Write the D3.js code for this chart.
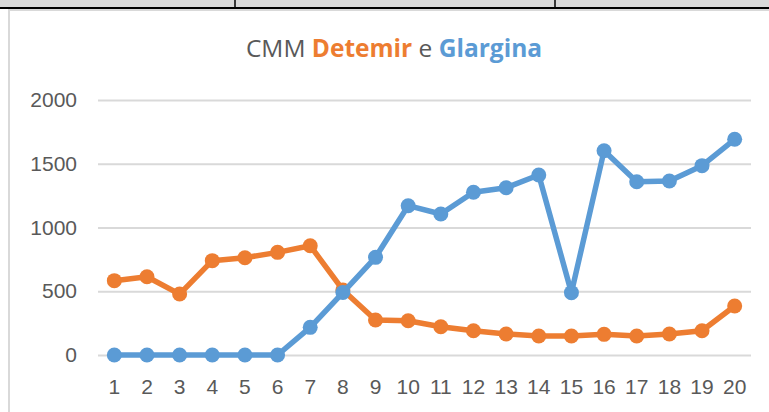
<!DOCTYPE html>
<html>
<head>
<meta charset="utf-8">
<script src="https://cdn.jsdelivr.net/npm/d3@7"></script>
<style>
  body { margin: 0; background: #fff; }
  svg { display: block; font-family: "Open Sans", sans-serif; }
</style>
</head>
<body>
<div class="chart"></div>
<script>
const categories = d3.range(1, 21).map(String);
const detemir = [583, 614, 478, 740, 763, 805, 857, 510, 275, 269, 222, 190, 165, 149, 149, 162, 149, 165, 190, 384];
const glargina = [0, 0, 0, 0, 0, 0, 217, 490, 766, 1171, 1106, 1276, 1312, 1412, 489, 1602, 1359, 1365, 1485, 1692];
const yTicks = [0, 500, 1000, 1500, 2000];

const W = 769, H = 412;
const margin = {top: 100, right: 18, bottom: 57, left: 98};

const svg = d3.select('.chart').append('svg')
    .attr('width', W)
    .attr('height', H);

// spreadsheet strip at the top
svg.append('rect').attr('x', 0).attr('y', 0).attr('width', W).attr('height', 8).attr('fill', '#d9d9d9');
[235, 555].forEach(function(xp) {
    svg.append('line').attr('x1', xp).attr('x2', xp).attr('y1', 0).attr('y2', 8)
        .attr('stroke', '#000').attr('stroke-width', 1.5);
});
svg.append('line').attr('x1', 0).attr('x2', W).attr('y1', 8).attr('y2', 8)
    .attr('stroke', '#000').attr('stroke-width', 2);

// chart frame
svg.append('rect').attr('x', 9).attr('y', 10).attr('width', W + 20).attr('height', H + 20)
    .attr('fill', '#fff').attr('stroke', '#d9d9d9').attr('stroke-width', 2);

const width = W - margin.left - margin.right;
const x = d3.scaleBand().domain(categories).range([margin.left, margin.left + width]);
const y = d3.scaleLinear().domain([0, 2000]).range([355, 100]);

// title
const title = svg.append('text')
    .attr('x', 394).attr('y', 57)
    .attr('text-anchor', 'middle')
    .style('font-size', '24.5px')
    .attr('fill', '#595959');
title.append('tspan').text('CMM ');
title.append('tspan').text('Detemir').attr('fill', '#ED7D31').style('font-weight', 'bold');
title.append('tspan').text(' e ');
title.append('tspan').text('Glargina').attr('fill', '#5B9BD5').style('font-weight', 'bold');

// y axis + gridlines
const yAxis = svg.append('g')
    .attr('transform', 'translate(' + margin.left + ',0)')
    .call(d3.axisLeft(y).tickValues(yTicks).tickFormat(d3.format('d')).tickSize(-width).tickPadding(21));
yAxis.select('.domain').remove();
yAxis.selectAll('line').attr('stroke', '#d9d9d9').attr('stroke-width', 2);
yAxis.selectAll('text').attr('fill', '#595959').style('font-size', '21px');

// x axis
const xAxis = svg.append('g')
    .attr('transform', 'translate(0,355)')
    .call(d3.axisBottom(x).tickSize(0).tickPadding(24));
xAxis.select('.domain').remove();
xAxis.selectAll('text').attr('fill', '#595959').style('font-size', '21px');

const cx = function(d, i) { return x(categories[i]) + x.bandwidth() / 2; };
const line = d3.line().x(cx).y(function(d) { return y(d); });

[[detemir, '#ED7D31'], [glargina, '#5B9BD5']].forEach(function(s) {
    const g = svg.append('g');
    g.append('path')
        .datum(s[0])
        .attr('d', line)
        .attr('fill', 'none')
        .attr('stroke', s[1])
        .attr('stroke-width', 5.5)
        .attr('stroke-linejoin', 'round');
    g.selectAll('circle')
        .data(s[0])
        .enter().append('circle')
        .attr('cx', cx)
        .attr('cy', function(d) { return y(d); })
        .attr('r', 7.5)
        .attr('fill', s[1]);
});
</script>
</body>
</html>
